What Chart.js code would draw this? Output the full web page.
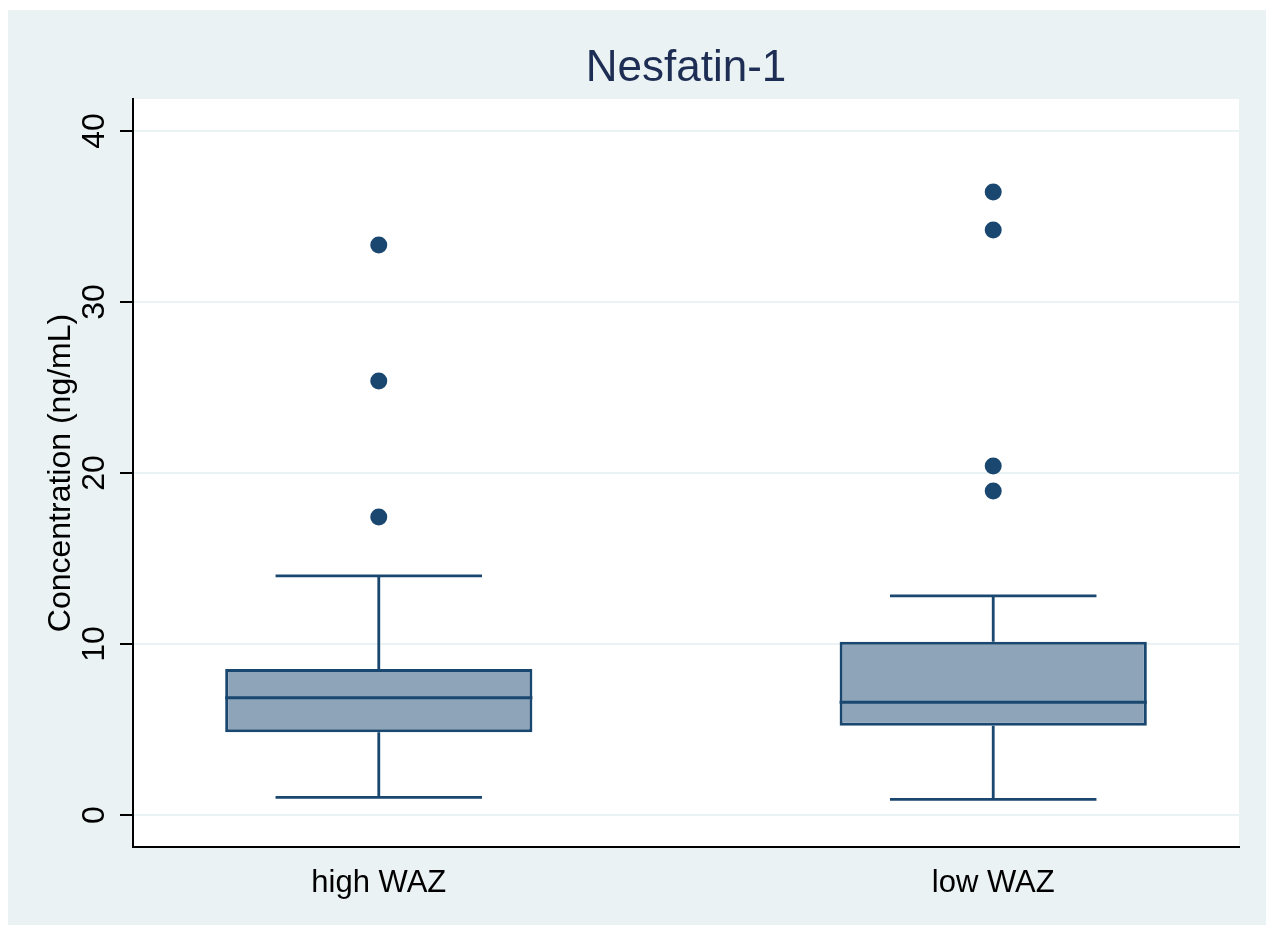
<!DOCTYPE html>
<html><head><meta charset="utf-8">
<script src="https://cdn.jsdelivr.net/npm/chart.js@4"></script>
<style>
html,body{margin:0;padding:0;background:#ffffff;width:1266px;height:925px;overflow:hidden}
#wrap{position:absolute;left:8px;top:10px;width:1258px;height:915px;background:#EAF2F3}
</style></head><body>
<div id="wrap"><canvas id="c"></canvas></div>
<script>
// ---- data ----
const categories = ['high WAZ', 'low WAZ'];
const whiskerLow  = [1.03, 0.92];
const q1          = [4.84, 5.22];
const median      = [6.86, 6.59];
const q3          = [8.54, 10.13];
const whiskerHigh = [13.98, 12.81];
const outliersHigh = [17.43, 25.38, 33.33];
const outliersLow  = [18.95, 20.41, 34.21, 36.43];
const outliers = [outliersHigh, outliersLow];
const yTicks = [0, 10, 20, 30, 40];
const chartTitle = 'Nesfatin-1';
const yTitle = 'Concentration (ng/mL)';

// ---- styling ----
const NAVY = '#1A476F';
const BOXFILL = '#8EA4B9';
const BG = '#EAF2F3';
const FONT = "'Liberation Sans', Arial, Helvetica, sans-serif";
const BOX_HALF = 0.25, CAP_HALF = 0.168;

Chart.defaults.font.family = FONT;
Chart.defaults.color = '#000000';

const boxData = categories.map((c, i) => ({x: i, y: [q1[i], q3[i]]}));
const medianData = categories.flatMap((c, i) => [
  {x: i - BOX_HALF, y: median[i]}, {x: i + BOX_HALF, y: median[i]}, {x: i, y: null}
]);
const whiskerData = categories.flatMap((c, i) => [
  {x: i, y: q3[i]}, {x: i, y: whiskerHigh[i]}, {x: i, y: null},
  {x: i - CAP_HALF, y: whiskerHigh[i]}, {x: i + CAP_HALF, y: whiskerHigh[i]}, {x: i, y: null},
  {x: i, y: q1[i]}, {x: i, y: whiskerLow[i]}, {x: i, y: null},
  {x: i - CAP_HALF, y: whiskerLow[i]}, {x: i + CAP_HALF, y: whiskerLow[i]}, {x: i, y: null}
]);
const outlierData = categories.flatMap((c, i) => outliers[i].map(v => ({x: i, y: v})));

const plotBg = {
  id: 'plotBg',
  beforeDraw(chart) {
    const {ctx, chartArea: a} = chart;
    ctx.save();
    ctx.fillStyle = '#ffffff';
    ctx.fillRect(a.left, a.top, a.right - a.left, a.bottom - a.top);
    ctx.restore();
  }
};

new Chart(document.getElementById('c'), {
  type: 'bar',
  data: {
    datasets: [
      {type: 'bar', data: boxData, order: 3, backgroundColor: BOXFILL, borderColor: NAVY,
       borderWidth: 3, borderSkipped: false, categoryPercentage: 1, barPercentage: 0.5},
      {type: 'line', data: whiskerData, order: 2, borderColor: NAVY, borderWidth: 2.8,
       pointRadius: 0, spanGaps: false, fill: false, tension: 0},
      {type: 'line', data: medianData, order: 1, borderColor: NAVY, borderWidth: 3,
       pointRadius: 0, spanGaps: false, fill: false, tension: 0},
      {type: 'scatter', data: outlierData, order: 0, backgroundColor: NAVY, borderColor: NAVY,
       borderWidth: 0, pointRadius: 8.5, pointHoverRadius: 8.5}
    ]
  },
  options: {
    responsive: true,
    maintainAspectRatio: false,
    animation: false,
    events: [],
    layout: {padding: {left: 0, right: 27, top: 0, bottom: 0}},
    plugins: {
      legend: {display: false},
      tooltip: {enabled: false},
      title: {
        display: true, text: chartTitle, fullSize: false, color: '#1E2D53',
        font: {size: 44, weight: 'normal', family: FONT, lineHeight: 1},
        padding: {top: 37, bottom: 8}
      }
    },
    scales: {
      x: {
        type: 'linear', min: -0.4, max: 1.4, offset: false,
        grid: {display: false, offset: false},
        border: {display: true, color: '#000000', width: 2},
        afterBuildTicks(scale) { scale.ticks = categories.map((c, i) => ({value: i})); },
        afterFit(scale) { scale.height = 78; },
        ticks: {
          autoSkip: false, maxRotation: 0, minRotation: 0, padding: 10, color: '#000000',
          font: {size: 31, family: FONT, lineHeight: 1.2},
          callback: (v) => categories[v]
        }
      },
      y: {
        type: 'linear', min: -1.87, max: 41.87, beginAtZero: false,
        grid: {color: BG, lineWidth: 2, drawTicks: true, tickLength: 13, tickColor: '#000000', tickWidth: 2},
        border: {display: true, color: '#000000', width: 2},
        afterBuildTicks(scale) { scale.ticks = yTicks.map(v => ({value: v})); },
        afterFit(scale) { scale.width = 125; },
        ticks: {
          autoSkip: false, minRotation: 90, maxRotation: 90, crossAlign: 'center', padding: 7,
          color: '#000000', font: {size: 32, family: FONT, lineHeight: 1.2},
          callback: (v) => String(v)
        },
        title: {
          display: true, text: yTitle, color: '#000000',
          font: {size: 32, family: FONT, lineHeight: 1},
          padding: {top: 37, bottom: 0}
        }
      }
    }
  },
  plugins: [plotBg]
});
</script>
</body></html>
